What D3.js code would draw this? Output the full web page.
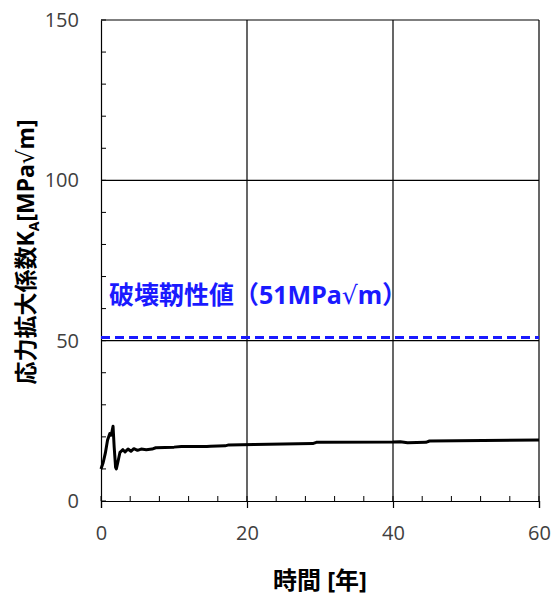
<!DOCTYPE html>
<html>
<head>
<meta charset="utf-8">
<script src="https://cdn.jsdelivr.net/npm/d3@7"></script>
<style>
  body { margin: 0; background: #fff; }
  text { font-family: "Liberation Sans", "Noto Sans CJK JP", sans-serif; }
  .cjk { font-family: "Noto Sans CJK JP", sans-serif; }
  .lat { font-family: "Noto Sans", "Liberation Sans", sans-serif; }
  .rad { font-family: "DejaVu Sans", sans-serif; }
</style>
</head>
<body>
<div id="chart"></div>
<script>
var width = 555,
    height = 597;

// time [years]
var years = [0, 0.3, 0.6, 0.9, 1.2, 1.4, 1.65, 1.8, 2.0, 2.1, 2.3, 2.6, 3.0, 3.3, 3.7, 4.1, 4.5, 5.0, 5.5, 6.2, 7.0, 7.5, 10, 11, 14.5, 15, 17, 17.5, 21, 29, 29.5, 40, 41, 42, 44.5, 45, 60];
// stress intensity factor K_A [MPa√m]
var kValues = [10, 12, 15, 19, 21, 20.5, 23.3, 17, 10.5, 10, 12, 15.2, 16, 15.3, 16.2, 15.5, 16.3, 15.8, 16.2, 16, 16.2, 16.6, 16.8, 17, 17, 17.1, 17.2, 17.5, 17.6, 17.9, 18.3, 18.4, 18.5, 18.2, 18.3, 18.7, 19];
var toughness = 51;
var xTicks = [0, 20, 40, 60];
var yTicks = [0, 50, 100, 150];
var xMinor = d3.range(0, 61, 4);
var yMinor = d3.range(0, 151, 10);

var margin = {left: 101, right: 16, top: 20, bottom: 96};

var x = d3.scaleLinear().domain([0, 60]).range([margin.left, width - margin.right]);
var y = d3.scaleLinear().domain([0, 150]).range([height - margin.bottom, margin.top]);

var svg = d3.select("#chart").append("svg")
    .attr("width", width)
    .attr("height", height);

// grid
svg.append("g").selectAll("line")
    .data(yTicks.slice(1))
    .enter().append("line")
    .attr("x1", x(0)).attr("x2", x(60))
    .attr("y1", function (d) { return y(d); })
    .attr("y2", function (d) { return y(d); })
    .attr("stroke", "#000").attr("stroke-width", 1.2);
svg.append("g").selectAll("line")
    .data(xTicks.slice(1))
    .enter().append("line")
    .attr("y1", y(0)).attr("y2", y(150))
    .attr("x1", function (d) { return x(d); })
    .attr("x2", function (d) { return x(d); })
    .attr("stroke", "#000").attr("stroke-width", 1.2);

// minor ticks (inside)
svg.append("g").selectAll("line")
    .data(yMinor)
    .enter().append("line")
    .attr("x1", x(0)).attr("x2", x(0) + 5)
    .attr("y1", function (d) { return y(d); })
    .attr("y2", function (d) { return y(d); })
    .attr("stroke", "#000");
svg.append("g").selectAll("line")
    .data(xMinor)
    .enter().append("line")
    .attr("y1", y(0)).attr("y2", y(0) - 5)
    .attr("x1", function (d) { return x(d); })
    .attr("x2", function (d) { return x(d); })
    .attr("stroke", "#000");

// axes
var xAxis = svg.append("g")
    .attr("transform", "translate(0," + y(0) + ")")
    .call(d3.axisBottom(x).tickValues(xTicks).tickSize(7).tickPadding(18));
var yAxis = svg.append("g")
    .attr("transform", "translate(" + x(0) + ",0)")
    .call(d3.axisLeft(y).tickValues(yTicks).tickSize(0).tickPadding(22));
[xAxis, yAxis].forEach(function (a) {
    a.select(".domain").attr("stroke", "#000").attr("stroke-width", 1.2);
    a.selectAll(".tick line").attr("stroke", "#000").attr("stroke-width", 1.2);
    a.selectAll("text")
        .attr("fill", "#404040")
        .style("font-size", "20px")
        .style("font-family", "'Open Sans', 'Liberation Sans', sans-serif");
});

// toughness line
svg.append("line")
    .attr("x1", x(0)).attr("x2", x(60))
    .attr("y1", y(toughness)).attr("y2", y(toughness))
    .attr("stroke", "#1a1aff")
    .attr("stroke-width", 3)
    .attr("stroke-dasharray", "9,5");

var note = svg.append("text")
    .attr("x", x(0) + 8)
    .attr("y", y(toughness) - 33)
    .attr("fill", "#1a1aff")
    .style("font-size", "25px")
    .style("font-weight", "bold");
note.append("tspan").attr("class", "cjk").text("破壊靭性値（");
note.append("tspan").attr("class", "lat").text("51MPa");
note.append("tspan").attr("class", "rad").style("font-weight", "normal").text("√");
note.append("tspan").attr("class", "lat").text("m");
note.append("tspan").attr("class", "cjk").text("）");

// K_A curve
var line = d3.line()
    .x(function (d) { return x(d[0]); })
    .y(function (d) { return y(d[1]); });
svg.append("path")
    .datum(d3.zip(years, kValues))
    .attr("d", line)
    .attr("fill", "none")
    .attr("stroke", "#000")
    .attr("stroke-width", 3)
    .attr("stroke-linejoin", "round");

// axis titles
var xt = svg.append("text")
    .attr("x", x(30))
    .attr("y", 589)
    .attr("text-anchor", "middle")
    .style("font-size", "24px")
    .style("font-weight", "bold");
xt.append("tspan").attr("class", "cjk").text("時間");
xt.append("tspan").attr("class", "lat").text(" [");
xt.append("tspan").attr("class", "cjk").text("年");
xt.append("tspan").attr("class", "lat").text("]");

var yt = svg.append("text")
    .attr("transform", "translate(34,252) rotate(-90)")
    .attr("text-anchor", "middle")
    .style("font-size", "23px")
    .style("font-weight", "bold");
yt.append("tspan").attr("class", "cjk").text("応力拡大係数");
yt.append("tspan").attr("class", "lat").text("K");
yt.append("tspan").attr("class", "lat").attr("dy", 5).style("font-size", "14px").text("A");
yt.append("tspan").attr("class", "lat").attr("dy", -5).text("[MPa");
yt.append("tspan").attr("class", "rad").style("font-weight", "normal").text("√");
yt.append("tspan").attr("class", "lat").text("m]");
</script>
</body>
</html>
